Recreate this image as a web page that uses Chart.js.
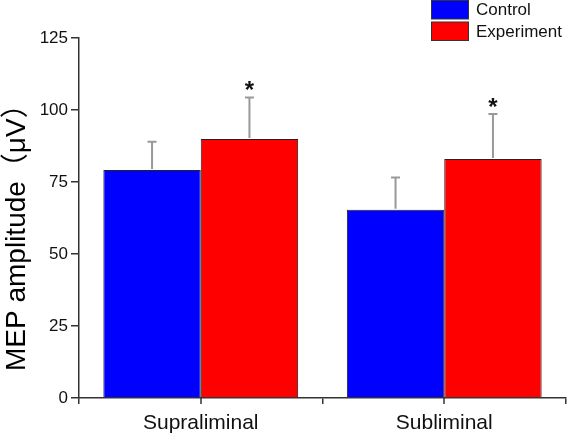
<!DOCTYPE html>
<html>
<head>
<meta charset="utf-8">
<script src="https://cdn.jsdelivr.net/npm/chart.js@4.4.0/dist/chart.umd.min.js"></script>
<style>
  html, body { margin: 0; padding: 0; background: #fff; }
  #wrap { width: 567px; height: 434px; }
</style>
</head>
<body>
<div id="wrap"><canvas id="chart"></canvas></div>
<script>
// conditions on the x axis:
const conditions = ['Supraliminal', 'Subliminal'];
// mean MEP amplitude (uV) per group:
const controlMeans = [79.2, 65.4];
const experimentMeans = [89.9, 83.0];
// upper error (SD) per group:
const controlErrors = [9.8, 11.2];
const experimentErrors = [14.4, 15.6];
// significance marks above the experiment bars:
const experimentMarks = ['*', '*'];
// y axis ticks:
const yTicks = [0, 25, 50, 75, 100, 125];

const FONT = '"Liberation Sans", Arial, "Noto Sans CJK JP", sans-serif';
const AXIS = '#333333';

// error bars, asterisks, centre ticks, legend and the y title:
const extras = {
  id: 'extras',
  afterDatasetsDraw(chart) {
    const ctx = chart.ctx;
    const y = chart.scales.y;
    ctx.save();
    chart.data.datasets.forEach((ds, i) => {
      const meta = chart.getDatasetMeta(i);
      meta.data.forEach((bar, j) => {
        const top = y.getPixelForValue(ds.data[j] + ds.errors[j]);
        ctx.strokeStyle = '#999999';
        ctx.lineWidth = 2;
        ctx.beginPath();
        ctx.moveTo(bar.x, bar.y - 1);
        ctx.lineTo(bar.x, top);
        ctx.moveTo(bar.x - 4.5, top);
        ctx.lineTo(bar.x + 4.5, top);
        ctx.stroke();
        if (ds.marks && ds.marks[j]) {
          ctx.fillStyle = '#111';
          ctx.font = 'bold 24px ' + FONT;
          ctx.textAlign = 'center';
          ctx.textBaseline = 'middle';
          ctx.fillText(ds.marks[j], bar.x, top - 6);
        }
      });
    });
    ctx.restore();
  },
  afterDraw(chart) {
    const ctx = chart.ctx;
    const x = chart.scales.x;
    ctx.save();
    // ticks in the middle of each category:
    ctx.strokeStyle = AXIS;
    ctx.lineWidth = 1.5;
    conditions.forEach((c, i) => {
      const px = Math.round(x.getPixelForValue(i));
      ctx.beginPath();
      ctx.moveTo(px, x.top);
      ctx.lineTo(px, x.top + 6);
      ctx.stroke();
    });
    // legend, top right:
    ctx.font = '17px ' + FONT;
    ctx.textAlign = 'left';
    ctx.textBaseline = 'middle';
    chart.data.datasets.forEach((ds, i) => {
      const by = 0.5 + i * 21.5;
      ctx.fillStyle = ds.backgroundColor;
      ctx.fillRect(431.5, by, 37, 18.5);
      ctx.strokeStyle = '#333';
      ctx.lineWidth = 1;
      ctx.strokeRect(431.5, by, 37, 18.5);
      ctx.fillStyle = '#111';
      ctx.fillText(ds.label, 476, by + 10);
    });
    // y axis title:
    ctx.translate(25, 371);
    ctx.rotate(-Math.PI / 2);
    ctx.font = '28px ' + FONT;
    ctx.textBaseline = 'alphabetic';
    ctx.fillStyle = '#000';
    ctx.fillText('MEP amplitude（μV）', 0, 0);
    ctx.restore();
  }
};

const data = {
  labels: conditions,
  datasets: [{
    label: 'Control',
    data: controlMeans,
    errors: controlErrors,
    backgroundColor: '#0000ff',
    borderColor: '#222',
    borderWidth: 1
  }, {
    label: 'Experiment',
    data: experimentMeans,
    errors: experimentErrors,
    marks: experimentMarks,
    backgroundColor: '#ff0000',
    borderColor: '#222',
    borderWidth: 1
  }]
};

const config = {
  type: 'bar',
  data: data,
  options: {
    responsive: true,
    maintainAspectRatio: false,
    animation: false,
    layout: { padding: { top: 38, right: 1, left: 0, bottom: 0 } },
    datasets: { bar: { categoryPercentage: 0.8, barPercentage: 1.0 } },
    plugins: {
      legend: { display: false },
      tooltip: { enabled: false }
    },
    scales: {
      x: {
        offset: true,
        grid: { offset: true, drawOnChartArea: false, tickLength: 6, color: AXIS, lineWidth: 1.5 },
        border: { color: AXIS, width: 1.5 },
        ticks: { color: '#111', font: { family: FONT, size: 21 }, padding: 7 },
        afterFit(scale) { scale.height = 36; }
      },
      y: {
        min: 0,
        max: 125,
        afterBuildTicks(scale) { scale.ticks = yTicks.map(v => ({ value: v })); },
        grid: { drawOnChartArea: false, tickLength: 8, color: AXIS, lineWidth: 1.5 },
        border: { color: AXIS, width: 1.5 },
        ticks: { color: '#111', font: { family: FONT, size: 17 }, padding: 3 },
        afterFit(scale) { scale.width = 79; }
      }
    }
  },
  plugins: [extras]
};

new Chart(document.getElementById('chart'), config);
</script>
</body>
</html>
